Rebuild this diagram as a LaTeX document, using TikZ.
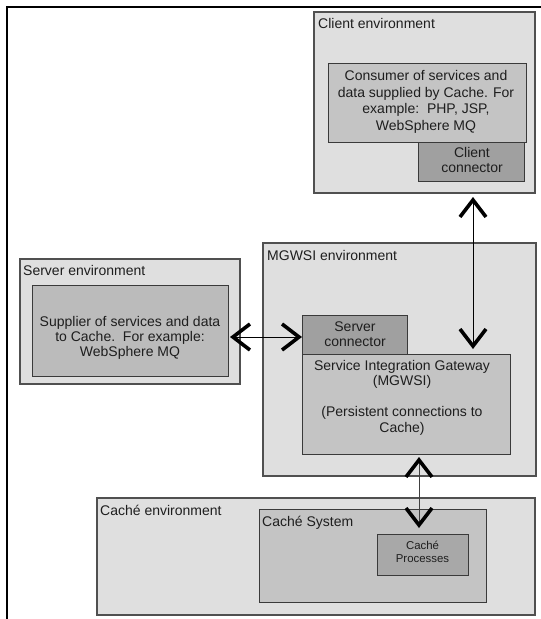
\documentclass[tikz,border=0pt]{standalone}
\usepackage{fontspec}
\setmainfont{Liberation Sans}
\usetikzlibrary{arrows.meta}
\definecolor{envfill}{HTML}{DFDFDF}
\definecolor{envline}{HTML}{505050}
\definecolor{midfill}{HTML}{C4C4C4}
\definecolor{supfill}{HTML}{BBBBBB}
\definecolor{darkfill}{HTML}{A0A0A0}
\definecolor{procfill}{HTML}{A8A8A8}
\definecolor{boxline}{HTML}{3A3A3A}
\definecolor{txt}{HTML}{1E1E1E}
\begin{document}
\begin{tikzpicture}[x=1pt,y=-1pt,
  box/.style={draw=boxline, line width=0.9pt, inner sep=0pt, outer sep=0pt, anchor=north west},
  envbox/.style={box, fill=envfill, draw=envline, line width=1.1pt},
  midbox/.style={box, fill=midfill},
  supbox/.style={box, fill=supfill},
  darkbox/.style={box, fill=darkfill},
  procbox/.style={box, fill=procfill},
  lbl/.style={anchor=base west, inner sep=0pt, text=txt, font=\fontsize{14}{16}\selectfont},
  body/.style={anchor=north, inner sep=0pt, align=center, text=txt},
  chev/.tip={Straight Barb[length=17pt,width=26pt,line width=3.6pt,color=black]},
  link/.style={line width=0.8pt, chev-chev}
]
\useasboundingbox (0,0) rectangle (541,619);
% outer frame
\draw[line width=2.8pt] (7,619) -- (7,7) -- (541,7);

% client environment
\node[envbox, minimum width=221pt, minimum height=181pt] (clientenv) at (314,12) {};
\node[lbl] (clientenv-t) at (318,28) {Client environment};
\node[midbox, minimum width=198pt, minimum height=79pt] (consumer) at (328,63) {};
\node[darkbox, minimum width=106pt, minimum height=39pt] (cconn) at (418,142) {};
\node[body, font=\fontsize{14}{16.7}\selectfont] (consumer-t) at (426,70)
  {Consumer of services and\\data supplied by Cache. For\\example:\ \ PHP, JSP,\\WebSphere MQ};
\node[body, font=\fontsize{14}{15}\selectfont] (cconn-t) at (472,147) {Client\\connector};

% server environment
\node[envbox, minimum width=220pt, minimum height=125pt] (serverenv) at (20,259) {};
\node[lbl] (serverenv-t) at (23,275) {Server environment};
\node[supbox, minimum width=196pt, minimum height=91pt] (supplier) at (32,285) {};
\node[body, font=\fontsize{14}{15}\selectfont] (supplier-t) at (130,316)
  {Supplier of services and data\\to Cache.\ \ For example:\\WebSphere MQ};

% MGWSI environment
\node[envbox, minimum width=273pt, minimum height=233pt] (mgwsi) at (263,243) {};
\node[lbl] (mgwsi-t) at (267,260) {MGWSI environment};
\node[darkbox, minimum width=105pt, minimum height=39pt] (sconn) at (302,315) {};
\node[midbox, minimum width=208pt, minimum height=100pt] (gateway) at (302,354) {};
\node[body, font=\fontsize{14}{15}\selectfont] (sconn-t) at (355,322) {Server\\connector};
\node[body, font=\fontsize{14}{15.5}\selectfont] (gateway-t) at (402,360)
  {Service Integration Gateway\\(MGWSI)\\[15.5pt](Persistent connections to\\Cache)};

% Cache environment
\node[envbox, minimum width=438pt, minimum height=117pt] (cacheenv) at (97,498) {};
\node[lbl] (cacheenv-t) at (100,515) {Caché environment};
\node[midbox, minimum width=227pt, minimum height=93pt] (cachesys) at (259,509) {};
\node[lbl] (cachesys-t) at (262,526) {Caché System};
\node[procbox, minimum width=91pt, minimum height=41pt] (cproc) at (377,534) {};
\node[body, font=\fontsize{11.4}{12.5}\selectfont] (cproc-t) at (422.5,541) {Caché\\Processes};

% connectors
\coordinate (ax1) at (473,0);
\coordinate (ay1) at (0,337);
\coordinate (ax2) at (419,0);
\draw[link, shorten <=4pt, shorten >=5pt] (clientenv.south -| ax1) -- (gateway.north -| ax1);
\draw[link, shorten <=2pt] (supplier.east |- ay1) -- (sconn.west |- ay1);
\draw[link, draw=black!75, line width=0.7pt, shorten <=3pt, shorten >=6pt] (gateway.south -| ax2) -- (cproc.north -| ax2);
\end{tikzpicture}
\end{document}
